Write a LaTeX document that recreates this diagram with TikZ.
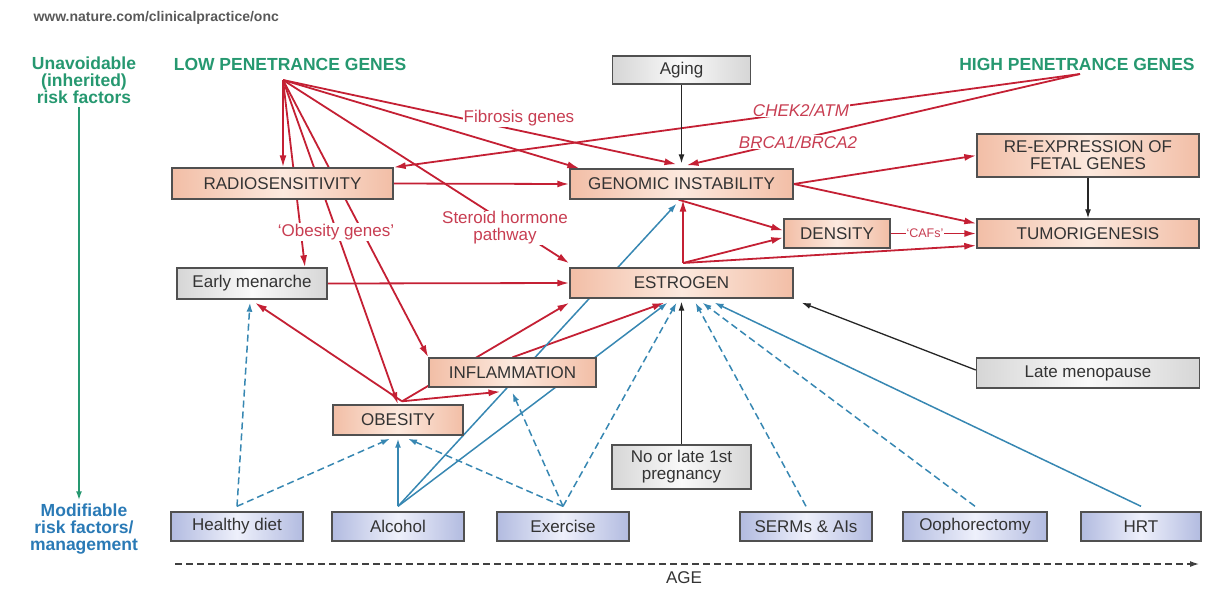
\documentclass[tikz,border=0pt]{standalone}
\usepackage{fontspec}
\setmainfont{Liberation Sans}
\usetikzlibrary{arrows.meta}
\pgfdeclarelayer{bg}
\pgfsetlayers{bg,main}
\definecolor{lnred}{RGB}{196,32,52}
\definecolor{txred}{RGB}{200,62,82}
\definecolor{lnblue}{RGB}{55,135,178}
\definecolor{hdgreen}{RGB}{38,152,112}
\definecolor{hdblue}{RGB}{42,122,182}
\definecolor{boxline}{RGB}{80,80,80}
\definecolor{peach}{RGB}{242,190,166}
\definecolor{peachmid}{RGB}{252,233,222}
\definecolor{greyedge}{RGB}{214,214,214}
\definecolor{greymid}{RGB}{249,249,249}
\definecolor{blueedge}{RGB}{178,187,224}
\definecolor{bluemid}{RGB}{238,240,251}

\begin{document}
\begin{tikzpicture}[x=1pt,y=-1pt,
  every node/.style={font=\fontsize{17}{17}\selectfont, text=black!80},
  base/.style={draw=boxline, line width=1.4pt, inner sep=2pt, align=center},
  peachbox/.style={base, left color=peach, right color=peach, middle color=peachmid},
  greybox/.style={base, left color=greyedge, right color=greyedge, middle color=greymid},
  bluebox/.style={base, left color=blueedge, right color=blueedge, middle color=bluemid},
  tag/.style={text=txred, fill=white, inner sep=1pt, align=center},
  hd/.style={font=\fontsize{17.5}{17}\selectfont\bfseries, align=center},
  redarr/.style={lnred, line width=1.8pt, -{Latex[length=12pt,width=7pt]}},
  bluearr/.style={lnblue, line width=1.5pt, -{Latex[length=9pt,width=6pt]}},
  bluedash/.style={bluearr, dash pattern=on 7pt off 4pt},
  blackarr/.style={black!85, line width=1.3pt, -{Latex[length=9pt,width=6pt]}}]
  \useasboundingbox (0,0) rectangle (1210,590);
  % headings
  \node[anchor=west, text=black!65, font=\fontsize{14}{14}\selectfont\bfseries] (url) at (30,18) {www.nature.com/clinicalpractice/onc};
  \node[hd, text=hdgreen] (unavoid) at (84,80) {Unavoidable\\(inherited)\\risk factors};
  \node[hd, text=hdblue] (modif) at (84,529) {Modifiable\\risk factors/\\management};
  \node[hd, text=hdgreen] (low) at (290,64) {LOW PENETRANCE GENES};
  \node[hd, text=hdgreen] (high) at (1077,64) {HIGH PENETRANCE GENES};
  \coordinate (lowsrc) at (283,80);
  \coordinate (highsrc) at (1080,74);
  % upper boxes
  \node[greybox, minimum width=138pt, minimum height=28pt] (aging) at (681.5,70) {Aging};
  \node[peachbox, minimum width=221pt, minimum height=31pt] (radio) at (282.5,183.5) {RADIOSENSITIVITY};
  \node[peachbox, minimum width=223pt, minimum height=30pt] (gi) at (681.5,184) {GENOMIC INSTABILITY};
  \node[peachbox, minimum width=222pt, minimum height=43pt] (reexp) at (1088,155.5) {RE-EXPRESSION OF\\FETAL GENES};
  \node[peachbox, minimum width=106pt, minimum height=29pt] (dens) at (837,233.5) {DENSITY};
  \node[peachbox, minimum width=222pt, minimum height=29pt] (tumor) at (1088,233.5) {TUMORIGENESIS};
  % middle boxes
  \node[greybox, minimum width=150pt, minimum height=31pt] (emen) at (252,283.5) {Early menarche};
  \node[peachbox, minimum width=223pt, minimum height=30pt] (est) at (681.5,283) {ESTROGEN};
  \coordinate (estsrc) at (683,263);
  \node[peachbox, minimum width=167pt, minimum height=29pt] (infl) at (512.5,372.5) {INFLAMMATION};
  \node[peachbox, minimum width=130pt, minimum height=30pt] (obes) at (398,420) {OBESITY};
  \coordinate (obtop) at ([xshift=4pt,yshift=3pt]obes.north);
  \node[greybox, minimum width=223pt, minimum height=30pt] (lmen) at (1088,373) {Late menopause};
  \node[greybox, minimum width=139pt, minimum height=44pt] (preg) at (681.5,467) {No or late 1st\\pregnancy};
  % modifiable factors
  \node[bluebox, minimum width=132pt, minimum height=29pt] (diet) at (237,526.5) {Healthy diet};
  \node[bluebox, minimum width=132pt, minimum height=29pt] (alc) at (398,526.5) {Alcohol};
  \node[bluebox, minimum width=132pt, minimum height=29pt] (exer) at (563,526.5) {Exercise};
  \node[bluebox, minimum width=132pt, minimum height=29pt] (serm) at (806,526.5) {SERMs \& AIs};
  \node[bluebox, minimum width=144pt, minimum height=29pt] (ooph) at (975,526.5) {Oophorectomy};
  \node[bluebox, minimum width=120pt, minimum height=29pt] (hrt) at (1141,526.5) {HRT};
  \coordinate (diettop) at ([yshift=5pt]diet.north);
  \coordinate (alctop) at ([yshift=5pt]alc.north);
  \coordinate (exertop) at ([yshift=5pt]exer.north);
  \coordinate (sermtop) at ([yshift=5pt]serm.north);
  \coordinate (oophtop) at ([yshift=5pt]ooph.north);
  \coordinate (hrttop) at ([yshift=5pt]hrt.north);
  % red labels on the lines
  \node[tag] (fib) at (519,118) {Fibrosis genes};
  \node[tag] (ster) at (505,228) {Steroid hormone\\pathway};
  \node[tag] (obg) at (336,232) {‘Obesity genes’};
  \node[tag, font=\fontsize{17}{17}\selectfont\itshape] (chek) at (801,110) {CHEK2/ATM};
  \node[tag, font=\fontsize{17}{17}\selectfont\itshape] (brca) at (798,142) {BRCA1/BRCA2};
  % age axis
  \coordinate (agel) at (175,564);
  \coordinate (ager) at (1199,564);
  \node (age) at (684,578) {AGE};

  \begin{pgfonlayer}{bg}
    % inherited to modifiable
    \draw[hdgreen, line width=1.6pt, -{Latex[length=9pt,width=6pt]}] ([xshift=-5pt]unavoid.south) -- ([xshift=-5pt]modif.north);
    % low penetrance genes
    \draw[redarr] (lowsrc) -- (lowsrc |- radio.north);
    \draw[redarr] (lowsrc) -- ([xshift=10pt]gi.north west);
    \draw[redarr] (lowsrc) -- ([xshift=-5pt,yshift=4pt]gi.north);
    \draw[redarr] (lowsrc) -- ([yshift=4pt]est.north west);
    \draw[redarr] (lowsrc) -- ([xshift=53pt]emen.north);
    \draw[redarr] (lowsrc) -- (obes.north);
    \draw[redarr] (lowsrc) -- (infl.north west);
    % high penetrance genes
    \draw[redarr] (highsrc) -- (radio.north east);
    \draw[redarr] (highsrc) -- ([xshift=5pt,yshift=3pt]gi.north);
    \draw[blackarr] (aging.south) -- ([yshift=5pt]gi.north);
    % genomic instability
    \draw[redarr] (radio.east) -- (gi.west);
    \draw[redarr] (gi.east) -- (reexp.west);
    \draw[redarr] (gi.east) -- ([yshift=10pt]tumor.west);
    \draw[redarr] ([xshift=-3pt]gi.south) -- ([yshift=3pt]dens.west);
    \draw[blackarr] (reexp.south) -- (tumor.north);
    \draw[redarr] (dens.east) -- node[tag, font=\fontsize{12.5}{12.5}\selectfont, pos=0.4] {‘CAFs’} (tumor.west);
    % estrogen
    \draw[redarr] (estsrc) -- (estsrc |- gi.south);
    \draw[redarr] (estsrc) -- ([yshift=-4pt]dens.west);
    \draw[redarr] (estsrc) -- ([yshift=-12pt]tumor.west);
    \draw[redarr] (emen.east) -- (est.west);
    % obesity and inflammation
    \draw[redarr] (obtop) -- ([xshift=3pt,yshift=-3pt]emen.south);
    \draw[redarr] (obtop) -- ([xshift=-12pt,yshift=-4pt]infl.south);
    \draw[redarr] (obtop) -- ([yshift=-4pt]est.south west);
    \draw[redarr] (infl.north) -- ([xshift=-17pt,yshift=-4pt]est.south);
    % modifiable factors
    \draw[bluedash] (diettop) -- ([xshift=-2pt,yshift=-3pt]emen.south);
    \draw[bluedash] (diettop) -- ([xshift=-8pt,yshift=-3pt]obes.south);
    \draw[bluearr] (alctop) -- ([yshift=-3pt]obes.south);
    \draw[bluearr] (alctop) -- ([xshift=-5pt,yshift=-4pt]gi.south);
    \draw[bluearr] (alctop) -- ([xshift=-14pt,yshift=-4pt]est.south);
    \draw[bluedash] (exertop) -- ([xshift=10pt,yshift=-3pt]obes.south);
    \draw[bluedash] (exertop) -- ([yshift=-5pt]infl.south);
    \draw[bluedash] (exertop) -- ([xshift=-5pt,yshift=-4pt]est.south);
    \draw[bluedash] (sermtop) -- ([xshift=14pt,yshift=-4pt]est.south);
    \draw[bluedash] (oophtop) -- ([xshift=21pt,yshift=-4pt]est.south);
    \draw[bluearr] (hrttop) -- ([xshift=33pt,yshift=-4pt]est.south);
    % other factors
    \draw[blackarr] (preg.north) -- ([yshift=-3pt]est.south);
    \draw[blackarr] ([yshift=3pt]lmen.west) -- ([xshift=8pt,yshift=-4pt]est.south east);
    % age
    \draw[black!75, line width=1.2pt, dash pattern=on 7pt off 4pt, -{Latex[length=9pt,width=6pt]}] (agel) -- (ager);
  \end{pgfonlayer}
\end{tikzpicture}
\end{document}
